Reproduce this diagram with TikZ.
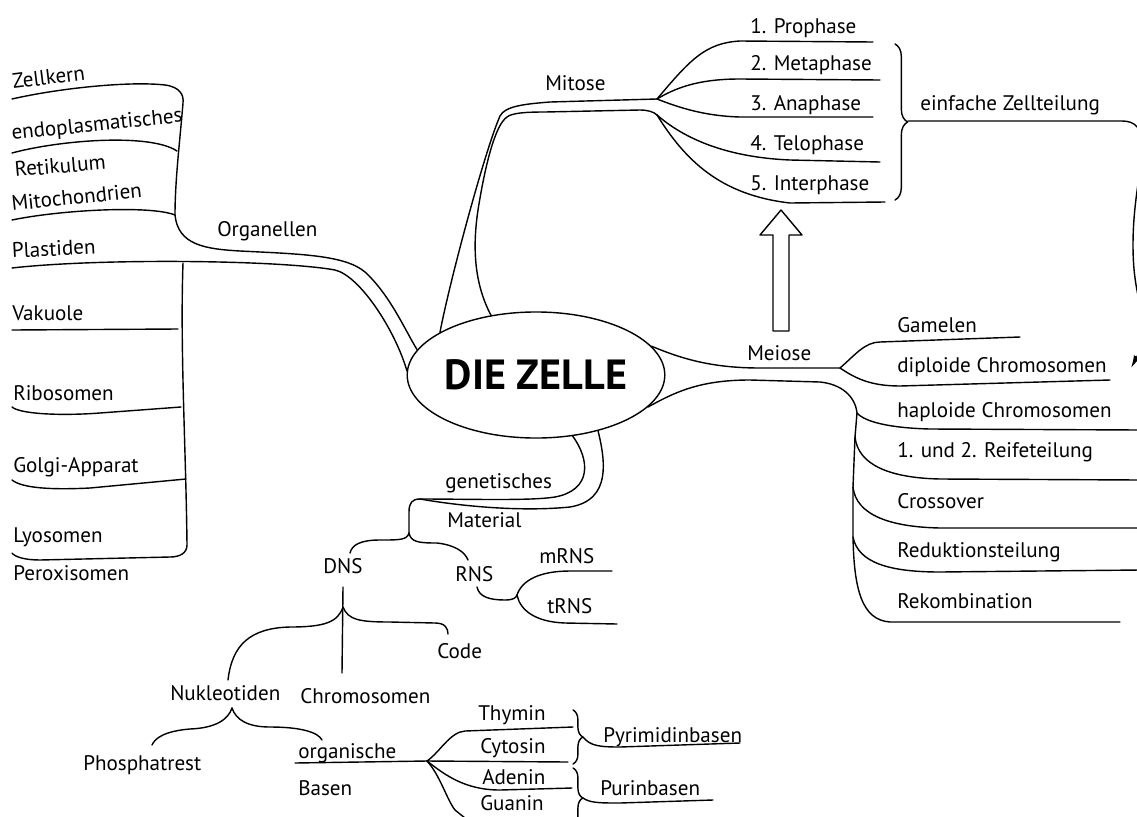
\documentclass[tikz,border=0pt]{standalone}
\usepackage{fontspec}
\setmainfont{PT Sans}
\usetikzlibrary{shapes.geometric, decorations.pathreplacing, arrows.meta}

\tikzset{
  lbl/.style={anchor=base west, inner sep=0pt, font=\fontsize{15}{18}\selectfont},
  ast/.style={line width=1pt, line cap=round, line join=round},
  klammer/.style={ast, decorate, decoration={brace, amplitude=#1}},
  klammer/.default=7pt,
}

\begin{document}
\begin{tikzpicture}[x=0.025cm, y=-0.025cm]
\useasboundingbox (0,0) rectangle (1137,816);

% Mitte
\node[draw, ellipse, line width=1pt, inner sep=0pt, minimum width=6.2cm, minimum height=3.15cm,
      font=\fontsize{30}{34}\selectfont\bfseries] (zelle) at (536,375) {DIE ZELLE};

% ========== Organellen ==========
\node[lbl, rotate=7] (zellkern) at (13,89) {Zellkern};
\node[lbl, rotate=6] (endo) at (12,140) {endoplasmatisches};
\node[lbl, rotate=5] (retik) at (15,177) {Retikulum};
\node[lbl, rotate=6] (mito) at (12,211) {Mitochondrien};
\node[lbl] (organ) at (217,236) {Organellen};
\node[lbl, rotate=3] (plast) at (12,258) {Plastiden};
\node[lbl] (vak) at (12,320) {Vakuole};
\node[lbl] (ribo) at (13,400) {Ribosomen};
\node[lbl] (golgi) at (13,472) {Golgi-Apparat};
\node[lbl] (lyso) at (13,542) {Lyosomen};
\node[lbl] (perox) at (13,580) {Peroxisomen};

\coordinate (zk) at (12,99);
\coordinate (er) at (12,153);
\coordinate (mc) at (12,220);
\coordinate (pl) at (12,268);
\coordinate (vk) at (12,330);
\coordinate (rb) at (12,407);
\coordinate (gg) at (12,480);
\coordinate (ly) at (12,553);
\coordinate (ob) at (175,215);
\coordinate (ou) at (183,263);

\draw[ast] (zk) .. controls (60,88) and (130,81) .. (165,85) .. controls (180,87) and (184,95) .. (183,103)
  .. controls (180,140) and (175,180) .. (ob);
\draw[ast] (er) .. controls (60,140) and (150,133) .. (177,151);
\draw[ast] (mc) .. controls (60,210) and (150,205) .. (ob);
\draw[ast] (ob) .. controls (178,245) and (205,249) .. (240,251) .. controls (300,254) and (345,255) .. (365,272)
  .. controls (390,295) and (405,330) .. (zelle.168);
\draw[ast] (pl) .. controls (100,258) and (280,260) .. (335,270) .. controls (360,276) and (395,330) .. (zelle.178);
\draw[ast] (ou) .. controls (180,350) and (186,450) .. (187,545) .. controls (187,553) and (180,557) .. (170,557)
  -- (40,560) .. controls (25,560) and (15,557) .. (ly);
\draw[ast] (vk) -- (178,329);
\draw[ast] (rb) .. controls (20,414) and (60,416) .. (100,413) -- (181,407);
\draw[ast] (gg) .. controls (22,488) and (50,490) .. (90,488) -- (186,479);

% ========== Mitose ==========
\node[lbl] (mitose) at (545,90) {Mitose};
\coordinate (mt) at (657,99);
\coordinate (mt2) at (657,115);

\draw[ast] (zelle.156) .. controls (450,280) and (485,150) .. (500,116) .. controls (505,106) and (525,104) .. (550,102) -- (mt);
\draw[ast] (zelle.127) .. controls (475,285) and (472,250) .. (478,210) .. controls (485,166) and (495,125) .. (507,117)
  .. controls (512,113) and (525,112) .. (545,112) -- (640,110) .. controls (648,110) and (654,112) .. (mt2);

\node[lbl] (pro) at (750,33) {1. Prophase};
\node[lbl] (meta) at (750,70) {2. Metaphase};
\node[lbl] (ana) at (750,110) {3. Anaphase};
\node[lbl] (telo) at (750,150) {4. Telophase};
\node[lbl] (inter) at (750,190) {5. Interphase};

\draw[ast] (mt) .. controls (690,60) and (705,43) .. (740,41) -- (873,42);
\draw[ast] (mt) .. controls (680,85) and (705,79) .. (740,79) -- (880,80);
\draw[ast] (mt) .. controls (680,108) and (705,116) .. (740,117) -- (873,117);
\draw[ast] (mt2) .. controls (680,135) and (720,157) .. (790,160) -- (880,162);
\draw[ast] (mt2) .. controls (685,160) and (720,195) .. (790,203) -- (885,202);

\draw[klammer=9pt] (895,44) -- (895,200);
\coordinate (kl) at (908,121);
\node[lbl] (einf) at (920,110) {einfache Zellteilung};
\draw[ast, -{Latex[length=9pt, width=5pt]}] (kl) -- (1122,121) .. controls (1135,121) and (1142,128) .. (1142,145)
  .. controls (1142,170) and (1133,200) .. (1133,245) .. controls (1133,290) and (1142,300) .. (1142,330)
  .. controls (1142,345) and (1138,355) .. (1131,368);

% Pfeil Meiose -> Mitose
\draw[ast, fill=white] (781,210) -- (802,235) -- (789,235) -- (789,331) -- (773,331) -- (773,235) -- (760,235) -- cycle;

% ========== Meiose ==========
\node[lbl] (meiose) at (747,360) {Meiose};
\coordinate (me) at (840,368);
\coordinate (mv) at (857,413);
\coordinate (r1) at (855,437);
\coordinate (r2) at (853,487);
\coordinate (r3) at (853,537);

\draw[ast] (zelle.14) .. controls (680,358) and (710,368) .. (760,368) -- (me);
\draw[ast] (zelle.344) .. controls (675,392) and (700,380) .. (750,380) -- (820,382) .. controls (840,384) and (855,395) .. (mv);

\node[lbl] (gamel) at (897,332) {Gamelen};
\node[lbl] (diplo) at (897,372) {diploide Chromosomen};
\node[lbl] (haplo) at (897,417) {haploide Chromosomen};
\node[lbl] (reife) at (897,457) {1. und 2. Reifeteilung};
\node[lbl] (cross) at (897,508) {Crossover};
\node[lbl] (redukt) at (897,557) {Reduktionsteilung};
\node[lbl] (rekomb) at (897,608) {Rekombination};

\draw[ast] (me) .. controls (855,355) and (865,342) .. (880,342) -- (1020,337);
\draw[ast] (me) .. controls (855,378) and (870,386) .. (900,386) -- (1110,380);
\draw[ast] (mv) -- (r1) -- (r2) -- (r3) .. controls (854,590) and (862,620) .. (890,622) -- (1120,622);
\draw[ast] (mv) .. controls (865,422) and (890,428) .. (930,429) -- (1140,430);
\draw[ast] (r1) .. controls (858,465) and (890,478) .. (940,479) -- (1140,480);
\draw[ast] (r2) .. controls (856,515) and (890,527) .. (940,528) -- (1140,528);
\draw[ast] (r3) .. controls (858,563) and (890,572) .. (940,572) -- (1140,570);

% ========== genetisches Material ==========
\node[lbl] (genet) at (445,488) {genetisches};
\node[lbl] (mater) at (447,527) {Material};
\coordinate (gm) at (420,499);
\coordinate (gv) at (409,533);

\draw[ast] (zelle.301) .. controls (590,460) and (592,490) .. (555,497) .. controls (530,501) and (470,499) .. (gm);
\draw[ast] (zelle.318) .. controls (605,460) and (612,500) .. (570,507) .. controls (520,512) and (460,506) .. (gm);
\draw[ast] (gm) .. controls (412,499) and (409,503) .. (409,512) -- (gv);

\node[lbl] (dns) at (323,573) {DNS};
\node[lbl] (rns) at (455,581) {RNS};
\coordinate (dns-o) at (350,553);
\coordinate (rns-o) at (468,560);
\draw[ast] (gv) .. controls (407,540) and (400,540) .. (380,540) .. controls (360,540) and (352,545) .. (dns-o);
\draw[ast] (gv) .. controls (411,542) and (418,543) .. (437,543) .. controls (455,545) and (465,552) .. (rns-o);

% RNS
\node[lbl] (mrns) at (539,563) {mRNS};
\node[lbl] (trns) at (547,613) {tRNS};
\coordinate (rns-u) at (477,587);
\coordinate (rn) at (517,595);
\draw[ast] (rns-u) .. controls (479,597) and (490,600) .. (505,600) .. controls (513,600) and (516,598) .. (rn);
\draw[ast] (rn) .. controls (522,580) and (540,571) .. (570,571) -- (612,571);
\draw[ast] (rn) .. controls (520,610) and (535,622) .. (565,623) -- (617,624);

% DNS
\node[lbl] (code) at (437,658) {Code};
\node[lbl] (chrom) at (300,703) {Chromosomen};
\node[lbl] (nukl) at (170,700) {Nukleotiden};
\coordinate (dns-u) at (343,587);
\coordinate (dv) at (343,607);
\coordinate (chrom-o) at (342,673);
\coordinate (nukl-o) at (228,680);
\coordinate (code-o) at (448,634);
\draw[ast] (dns-u) -- (chrom-o);
\draw[ast] (dv) .. controls (338,622) and (325,627) .. (290,627) .. controls (250,628) and (232,645) .. (nukl-o);
\draw[ast] (dv) .. controls (348,620) and (360,622) .. (390,622) -- (435,623) .. controls (445,623) and (448,628) .. (code-o);

% Nukleotiden
\node[lbl] (phos) at (83,770) {Phosphatrest};
\node[lbl] (organisch) at (298,758) {organische};
\node[lbl] (basen) at (298,795) {Basen};
\coordinate (nk) at (232,708);
\coordinate (phos-o) at (152,745);
\coordinate (org-o) at (322,740);
\draw[ast] (nk) .. controls (228,720) and (215,728) .. (190,729) .. controls (165,731) and (155,738) .. (phos-o);
\draw[ast] (nk) .. controls (236,720) and (248,727) .. (270,727) .. controls (300,727) and (318,732) .. (org-o);

% Basen
\node[lbl] (thy) at (478,720) {Thymin};
\node[lbl] (cyt) at (480,753) {Cytosin};
\node[lbl] (ade) at (482,784) {Adenin};
\node[lbl] (gua) at (480,810) {Guanin};
\coordinate (ba) at (427,761);
\draw[ast] (295,763) -- (ba);
\draw[ast] (ba) .. controls (440,752) and (450,732) .. (465,731) -- (573,727);
\draw[ast] (ba) -- (568,762);
\draw[ast] (ba) .. controls (445,775) and (465,790) .. (500,790) -- (572,788);
\draw[ast] (ba) .. controls (440,775) and (447,800) .. (455,810) -- (470,822);

\draw[klammer] (573,710) -- (573,764);
\draw[klammer] (573,768) -- (573,828);
\node[lbl] (pyri) at (603,742) {Pyrimidinbasen};
\node[lbl] (puri) at (600,795) {Purinbasen};
\coordinate (pyr-k) at (583,737);
\coordinate (pur-k) at (583,798);
\draw[ast] (pyr-k) .. controls (590,746) and (600,747) .. (620,747) -- (740,743);
\draw[ast] (pur-k) .. controls (590,803) and (600,803) .. (620,803) -- (713,800);
\end{tikzpicture}
\end{document}
